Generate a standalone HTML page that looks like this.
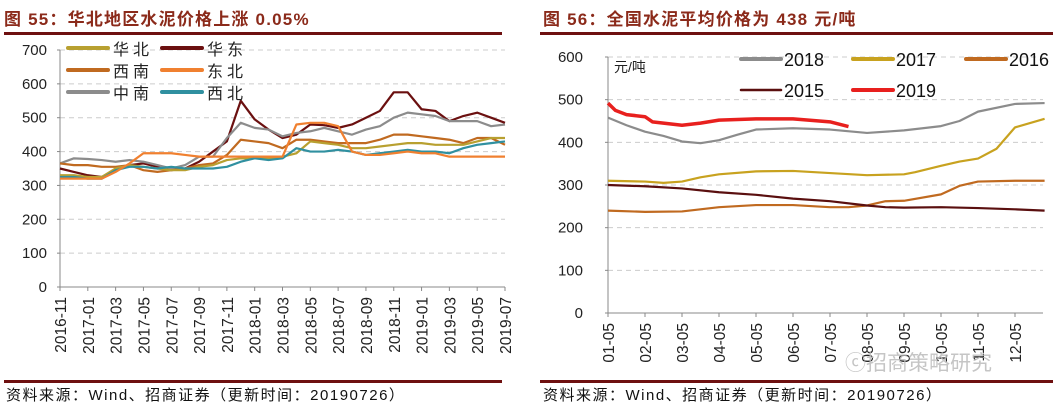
<!DOCTYPE html>
<html><head><meta charset="utf-8">
<style>
body{margin:0;background:#fff;width:1057px;height:409px;overflow:hidden;font-family:"Liberation Sans","Noto Sans CJK SC",sans-serif}
svg{position:absolute;left:0;top:0}
</style></head><body>
<svg id="s" width="1057" height="409" font-family="Liberation Sans, Noto Sans CJK SC, sans-serif">
<text x="4" y="25" font-size="17" font-weight="bold" letter-spacing="1.2" fill="#8b2a1a">图 55：华北地区水泥价格上涨 0.05%</text>
<text x="543" y="25" font-size="17" font-weight="bold" letter-spacing="1.2" fill="#8b2a1a">图 56：全国水泥平均价格为 438 元/吨</text>
<rect x="4" y="32" width="498" height="3" fill="#6e1010"/>
<rect x="540" y="32" width="513" height="3" fill="#6e1010"/>
<rect x="4" y="380" width="498" height="3" fill="#6e1010"/>
<rect x="540" y="380" width="513" height="3" fill="#6e1010"/>
<text x="6" y="400" font-size="15" letter-spacing="1.5" fill="#111">资料来源：Wind、招商证券（更新时间：20190726）</text>
<text x="543" y="400" font-size="15" letter-spacing="1.5" fill="#111">资料来源：Wind、招商证券（更新时间：20190726）</text>
<g id="L"></g><g id="R"></g>
<text x="845" y="370" font-size="21" fill="#bbb" opacity="0.85">ⓒ招商策略研究</text>
</svg>
<script>
// Left chart data (month index from 2016-11)
const leftMonths=[0,1,2,3,4,5,6,7,8,9,10,11,12,13,14,15,16,17,18,19,20,21,22,23,24,25,26,27,28,29,30,31,32];
const leftTicks=["2016-11","2017-01","2017-03","2017-05","2017-07","2017-09","2017-11","2018-01","2018-03","2018-05","2018-07","2018-09","2018-11","2019-01","2019-03","2019-05","2019-07"];
const huabei=[330,330,325,325,350,360,355,350,345,345,355,360,375,380,380,380,385,395,430,425,420,410,410,415,420,425,425,420,420,420,430,440,440];
const huadong=[350,340,330,325,345,360,365,355,345,350,370,400,430,550,495,465,440,450,480,478,470,480,500,520,575,575,525,520,490,505,515,500,485];
const xinan=[365,360,360,355,355,360,345,340,345,350,360,365,390,435,430,425,410,435,435,430,425,425,425,435,450,450,445,440,435,425,440,440,420];
const dongbei=[320,320,320,320,340,365,395,395,395,390,385,385,385,385,385,385,385,480,485,485,475,400,390,390,395,400,395,395,385,385,385,385,385];
const zhongnan=[365,380,378,375,370,375,370,360,350,360,385,385,440,485,470,465,445,455,460,470,460,450,465,475,500,515,510,505,490,490,490,475,480];
const xibei=[325,325,320,320,345,355,355,350,355,350,350,350,355,370,380,375,380,410,400,400,405,400,390,395,400,405,400,400,395,410,420,425,430];
const leftNames=["华北","华东","西南","东北","中南","西北"];
// Right chart data (month offset from 01-05)
const rightTicks=["01-05","02-05","03-05","04-05","05-05","06-05","07-05","08-05","09-05","10-05","11-05","12-05"];
const m2018=[0,0.5,1,1.5,2,2.5,3,3.5,4,5,6,7,8,9,9.5,10,11,11.8];
const v2018=[458,440,425,415,402,398,405,418,430,433,430,422,428,438,450,472,490,492];
const m2019=[0,0.2,0.5,1,1.2,2,2.5,3,4,5,6,6.5];
const v2019=[492,475,465,460,448,440,445,452,455,455,448,437];
const m2017=[0,1,1.5,2,2.5,3,4,5,6,7,8,8.3,9,9.5,10,10.5,11,11.8];
const v2017=[310,308,305,308,318,325,332,333,328,323,325,330,345,355,362,385,435,455];
const m2016=[0,1,2,3,4,5,6,6.5,7,7.5,8,9,9.5,10,11,11.8];
const v2016=[240,237,238,248,253,253,248,248,252,262,263,278,298,308,310,310];
const m2015=[0,1,2,3,4,5,6,7,7.5,8,9,10,11,11.8];
const v2015=[300,297,292,283,277,268,262,252,248,247,248,246,243,240];

const NS="http://www.w3.org/2000/svg";
function mk(p,t,a){const e=document.createElementNS(NS,t);for(const k in a)e.setAttribute(k,a[k]);p.appendChild(e);return e;}

// LEFT
const L=document.getElementById('L');
const lx=m=>60+m*(445/32), ly=v=>287-v*(237/700);
for(let v=0;v<=700;v+=100){
  if(v>0){const g=mk(L,'line',{x1:60,x2:505,y1:ly(v),y2:ly(v),stroke:'#ccc','stroke-dasharray':'5,4'});
  }
  const t=mk(L,'text',{x:47,y:ly(v)+5,'font-size':15,'text-anchor':'end',fill:'#222'});t.textContent=v;
  
  mk(L,'line',{x1:57,x2:60,y1:ly(v),y2:ly(v),stroke:'#888'});
}
let a=mk(L,'line',{x1:60,x2:60,y1:ly(700),y2:287,stroke:'#888'});
a=mk(L,'line',{x1:60,x2:505,y1:287,y2:287,stroke:'#888'});
leftTicks.forEach((s,i)=>{const x=lx(i*2);mk(L,'line',{x1:x,x2:x,y1:287,y2:291,stroke:'#888'});
  const t=mk(L,'text',{x:0,y:0,'font-size':15.5,'text-anchor':'end',fill:'#222',transform:`translate(${x+6},${297}) rotate(-90)`});t.textContent=s;
  });
const lSeries=[[huabei,'#b8a030'],[huadong,'#6b1010'],[xinan,'#c06a20'],[dongbei,'#f08030'],[zhongnan,'#8c8c8c'],[xibei,'#3090a0']];
const lOrder=[1,4,2,0,5,3];
lOrder.forEach(i=>{const [d,c]=lSeries[i];
  const p=mk(L,'polyline',{points:d.map((v,j)=>lx(leftMonths[j])+','+ly(v)).join(' '),fill:'none',stroke:c,'stroke-width':2.2,'stroke-linejoin':'round'});
  });
lSeries.forEach(([d,c],i)=>{const col=i%2,row=Math.floor(i/2);const x=68+col*94,y=50+row*22;
  const g=mk(L,'g',{});
  mk(g,'line',{x1:x,x2:x+40,y1:y-2,y2:y-2,stroke:c,'stroke-width':4,'stroke-linecap':'round'});
  const t=mk(g,'text',{x:x+45,y:y+5,'font-size':16,fill:'#222','letter-spacing':4});t.textContent=leftNames[i];});

// RIGHT
const R=document.getElementById('R');
const rx=m=>608+m*37, ry=v=>313-v*(256/600);
for(let v=0;v<=600;v+=100){
  if(v>0){const g=mk(R,'line',{x1:608,x2:1043,y1:ry(v),y2:ry(v),stroke:'#ccc','stroke-dasharray':'5,4'});
  }
  const t=mk(R,'text',{x:583,y:ry(v)+5,'font-size':15,'text-anchor':'end',fill:'#222'});t.textContent=v;
  
  mk(R,'line',{x1:605,x2:608,y1:ry(v),y2:ry(v),stroke:'#888'});
}
a=mk(R,'line',{x1:608,x2:608,y1:ry(600),y2:313,stroke:'#888'});
a=mk(R,'line',{x1:608,x2:1043,y1:313,y2:313,stroke:'#888'});
rightTicks.forEach((s,i)=>{const x=rx(i);mk(R,'line',{x1:x,x2:x,y1:313,y2:317,stroke:'#888'});
  const t=mk(R,'text',{x:0,y:0,'font-size':15.5,'text-anchor':'end',fill:'#222',transform:`translate(${x+6},${323}) rotate(-90)`});t.textContent=s;
  });
let u=mk(R,'text',{x:614,y:72,'font-size':14,fill:'#222'});u.textContent='元/吨';
const rSeries=[[m2016,v2016,'#c06a20','2016'],[m2015,v2015,'#5a0f0f','2015'],[m2017,v2017,'#c8a21f','2017'],[m2018,v2018,'#8c8c8c','2018'],[m2019,v2019,'#e8201e','2019']];
rSeries.forEach(([m,v,c,n])=>{const p=mk(R,'polyline',{points:v.map((val,j)=>rx(m[j])+','+ry(val)).join(' '),fill:'none',stroke:c,'stroke-width':n==='2019'?3.5:2.2,'stroke-linejoin':'round'});
  });
const rLeg=[['2018','#8c8c8c',741,59],['2017','#c8a21f',853,59],['2016','#c06a20',966,59],['2015','#5a0f0f',741,90],['2019','#e8201e',853,90]];
rLeg.forEach(([n,c,x,y])=>{const g=mk(R,'g',{});
  mk(g,'line',{x1:x,x2:x+40,y1:y,y2:y,stroke:c,'stroke-width':n==='2015'?2.5:4,'stroke-linecap':'round'});
  const t=mk(g,'text',{x:x+43,y:y+7,'font-size':18,fill:'#111'});t.textContent=n;});
</script>
</body></html>
